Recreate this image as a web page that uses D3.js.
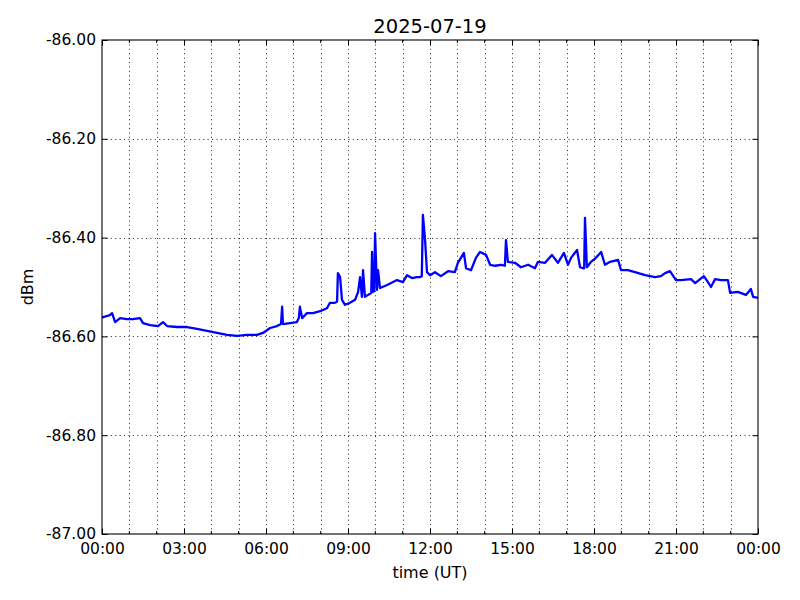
<!DOCTYPE html>
<html>
<head>
<meta charset="utf-8">
<script src="https://cdn.jsdelivr.net/npm/d3@7"></script>
<style>
  html, body { margin: 0; padding: 0; background: #fff; }
  svg { display: block; }
  text { font-family: "DejaVu Sans", sans-serif; fill: #000; }
</style>
</head>
<body>
<svg id="chart" width="800" height="600"></svg>
<script>
// ---- data (hours UT, dBm) ----
const hours = [0.00, 0.04, 0.29, 0.37, 0.48, 0.66, 0.91, 1.13, 1.39, 1.50, 1.76, 2.05, 2.23, 2.38, 2.74,
  3.11, 3.48, 3.84, 4.21, 4.57, 4.94, 5.30, 5.67, 5.89, 6.15, 6.40, 6.55, 6.59, 6.62, 6.88, 7.13, 7.20, 7.24, 7.32,
  7.50, 7.72, 7.98, 8.23, 8.34, 8.52, 8.60, 8.63, 8.71, 8.78, 8.89, 9.07, 9.26, 9.37, 9.44, 9.51, 9.55,
  9.62, 9.73, 9.85, 9.88, 9.91, 9.96, 9.99, 10.06, 10.10, 10.17, 10.43, 10.65, 10.79, 11.01, 11.16, 11.34,
  11.52, 11.63, 11.70, 11.74, 11.82, 11.89, 12.00, 12.18, 12.40, 12.66, 12.91, 13.02, 13.24, 13.32, 13.50,
  13.68, 13.83, 14.05, 14.20, 14.38, 14.60, 14.74, 14.78, 14.85, 15.11, 15.33, 15.59, 15.84, 15.95, 16.21,
  16.46, 16.68, 16.90, 17.05, 17.16, 17.38, 17.49, 17.60, 17.64, 17.67, 17.74, 17.89, 18.07, 18.26, 18.40,
  18.59, 18.88, 18.99, 19.24, 19.50, 19.87, 20.23, 20.45, 20.60, 20.78, 21.00, 21.18, 21.55, 21.70, 22.02,
  22.17, 22.28, 22.43, 22.65, 22.90, 22.98, 23.26, 23.56, 23.74, 23.82, 24.00];
const dbm = [-86.562, -86.561, -86.557, -86.553, -86.571, -86.563, -86.565, -86.565, -86.563, -86.573, -86.577, -86.579, -86.571, -86.579, -86.581,
  -86.581, -86.585, -86.589, -86.593, -86.597, -86.599, -86.597, -86.597, -86.593, -86.583, -86.579, -86.575, -86.540, -86.575, -86.573, -86.571, -86.563, -86.540, -86.563,
  -86.553, -86.553, -86.549, -86.543, -86.532, -86.532, -86.530, -86.472, -86.480, -86.526, -86.536, -86.532, -86.526, -86.510, -86.480, -86.520, -86.466,
  -86.520, -86.516, -86.512, -86.429, -86.510, -86.508, -86.391, -86.506, -86.466, -86.502, -86.496, -86.490, -86.486, -86.490, -86.476, -86.482,
  -86.480, -86.480, -86.478, -86.354, -86.405, -86.470, -86.476, -86.470, -86.478, -86.468, -86.470, -86.451, -86.431, -86.462, -86.466,
  -86.441, -86.429, -86.435, -86.455, -86.457, -86.455, -86.457, -86.405, -86.449, -86.451, -86.460, -86.455, -86.462, -86.449, -86.451,
  -86.435, -86.451, -86.431, -86.455, -86.441, -86.425, -86.460, -86.462, -86.462, -86.360, -86.460, -86.449, -86.441, -86.429, -86.455,
  -86.449, -86.445, -86.466, -86.466, -86.470, -86.476, -86.480, -86.478, -86.472, -86.468, -86.486, -86.486, -86.484, -86.492, -86.478,
  -86.490, -86.500, -86.484, -86.486, -86.486, -86.512, -86.510, -86.516, -86.504, -86.520, -86.522];

const xTickValues = [0, 3, 6, 9, 12, 15, 18, 21, 24];
const xTickLabels = ["00:00", "03:00", "06:00", "09:00", "12:00", "15:00", "18:00", "21:00", "00:00"];
const yTickValues = [-87.0, -86.8, -86.6, -86.4, -86.2, -86.0];
const yTickLabels = ["-87.00", "-86.80", "-86.60", "-86.40", "-86.20", "-86.00"];
const minorHours = d3.range(0, 25, 1);
const titleText = "2025-07-19";
const xLabel = "time (UT)";
const yLabel = "dBm";

// ---- layout ----
const L = 102, T = 40, W = 656, H = 494;
const svg = d3.select("#chart");
const x = d3.scaleLinear().domain([0, 24]).range([L, L + W]);
const y = d3.scaleLinear().domain([-87, -86]).range([T + H, T]);

const grid = svg.append("g").attr("stroke", "#000").attr("stroke-width", 0.8)
  .attr("stroke-dasharray", "1.1,3.3").attr("fill", "none");
grid.selectAll("line.v").data(minorHours.filter(h => h > 0 && h < 24)).enter().append("line")
  .attr("x1", d => Math.round(x(d)) + 0.5).attr("x2", d => Math.round(x(d)) + 0.5)
  .attr("y1", T).attr("y2", T + H);
grid.selectAll("line.h").data(yTickValues.filter(v => v > -87 && v < -86)).enter().append("line")
  .attr("x1", L).attr("x2", L + W)
  .attr("y1", d => Math.round(y(d)) + 0.5).attr("y2", d => Math.round(y(d)) + 0.5);

// line
const line = d3.line().x((d, i) => x(hours[i])).y(d => y(d));
svg.append("path").datum(dbm).attr("d", line)
  .attr("fill", "none").attr("stroke", "#0000ff").attr("stroke-width", 2.3)
  .attr("stroke-linejoin", "round");

// axes (inward ticks)
const fs = "15.5px";
const xAxis = d3.axisBottom(x).tickValues(xTickValues).tickFormat((d, i) => xTickLabels[i])
  .tickSizeInner(-5.5).tickSizeOuter(0).tickPadding(8);
const gx = svg.append("g").attr("transform", `translate(0,${T + H})`).call(xAxis);
gx.select(".domain").remove();
gx.selectAll("text").attr("font-size", fs).attr("font-family", "DejaVu Sans").attr("dy", "0.78em");
gx.selectAll("line").attr("stroke", "#000");

const xTop = d3.axisTop(x).tickValues(xTickValues).tickFormat("").tickSizeInner(-5.5).tickSizeOuter(0);
const gxt = svg.append("g").attr("transform", `translate(0,${T})`).call(xTop);
gxt.select(".domain").remove();

const yAxis = d3.axisLeft(y).tickValues(yTickValues).tickFormat((d, i) => yTickLabels[i])
  .tickSizeInner(-5.5).tickSizeOuter(0).tickPadding(6);
const gy = svg.append("g").attr("transform", `translate(${L},0)`).call(yAxis);
gy.select(".domain").remove();
gy.selectAll("text").attr("font-size", fs).attr("font-family", "DejaVu Sans");

const yRight = d3.axisRight(y).tickValues(yTickValues).tickFormat("").tickSizeInner(-5.5).tickSizeOuter(0);
const gyr = svg.append("g").attr("transform", `translate(${L + W},0)`).call(yRight);
gyr.select(".domain").remove();

// minor ticks (hourly) top & bottom
const minor = svg.append("g").attr("stroke", "#000").attr("stroke-width", 1);
minorHours.filter(h => h % 3 !== 0).forEach(h => {
  minor.append("line").attr("x1", x(h)).attr("x2", x(h)).attr("y1", T + H).attr("y2", T + H - 3);
  minor.append("line").attr("x1", x(h)).attr("x2", x(h)).attr("y1", T).attr("y2", T + 3);
});

// frame
svg.append("rect").attr("x", L).attr("y", T).attr("width", W).attr("height", H)
  .attr("fill", "none").attr("stroke", "#000").attr("stroke-width", 1.1);

// labels
svg.append("text").attr("x", L + W / 2).attr("y", 33).attr("text-anchor", "middle")
  .attr("font-size", "19.5px").text(titleText);
svg.append("text").attr("x", L + W / 2).attr("y", 578).attr("text-anchor", "middle")
  .attr("font-size", "16px").text(xLabel);
svg.append("text").attr("transform", `translate(33,${T + H / 2}) rotate(-90)`).attr("text-anchor", "middle")
  .attr("font-size", "16px").text(yLabel);
</script>
</body>
</html>
